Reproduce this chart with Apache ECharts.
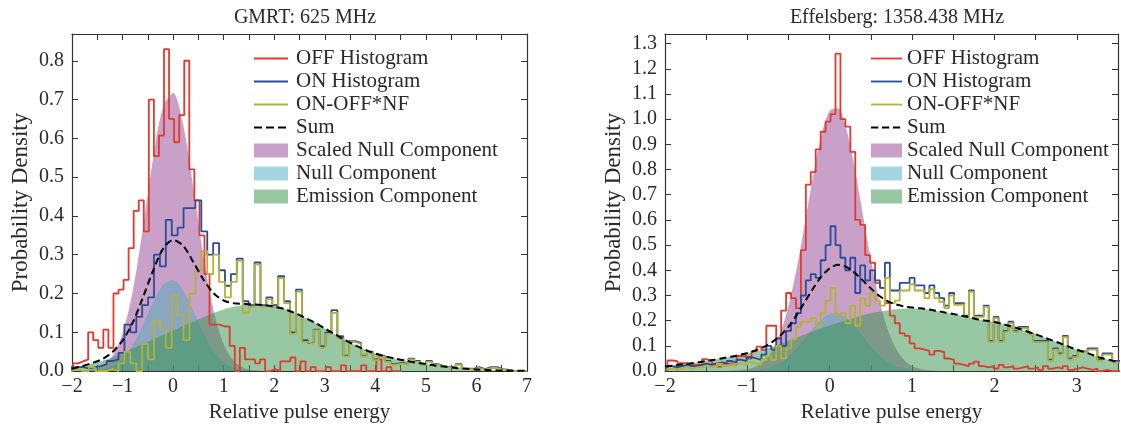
<!DOCTYPE html>
<html>
<head>
<meta charset="utf-8">
<script src="https://cdn.jsdelivr.net/npm/echarts@6/dist/echarts.min.js"></script>
<style>
  html, body { margin: 0; background: #fff; }
  #main { width: 1121px; height: 428px; }
</style>
</head>
<body>
<div id="main"></div>
<script>
// ---- GMRT 625 MHz (left panel) ----
const gmrtOffStart = -1.98, gmrtOffWidth = 0.1;
const gmrtOff = [0.02, 0.025, 0.03, 0.10, 0.08, 0.06, 0.107, 0.06, 0.20, 0.21,
  0.235, 0.317, 0.413, 0.44, 0.36, 0.70, 0.554, 0.607, 0.83, 0.65,
  0.59, 0.66, 0.80, 0.52, 0.44, 0.35, 0.25, 0.12, 0.12, 0.115,
  0.115, 0.065, 0.0, 0.06, 0.03, 0.03, 0.02, 0.03, 0.0, 0.005,
  0.0, 0.025, 0.025, 0.035, 0.0, 0.025, 0.0, 0.01, 0.0, 0.0,
  0.01, 0.0, 0.0, 0.015, 0.0, 0.0, 0.0, 0.015, 0.0, 0.0,
  0.03, 0.0, 0.01, 0.0, 0.0];

const gmrtOnStart = -2.016, gmrtOnWidth = 0.117;
const gmrtOn = [0.01, 0.01, 0.007, 0.01, 0.013, 0.018, 0.026, 0.03, 0.047, 0.12,
  0.10, 0.14, 0.17, 0.19, 0.30, 0.27, 0.39, 0.35, 0.37, 0.42,
  0.42, 0.44, 0.36, 0.30, 0.33, 0.26, 0.22, 0.25, 0.29, 0.18,
  0.17, 0.28, 0.17, 0.19, 0.17, 0.245, 0.18, 0.10, 0.21, 0.08,
  0.073, 0.107, 0.064, 0.10, 0.157, 0.09, 0.04, 0.077, 0.073, 0.04,
  0.05, 0.03, 0.04, 0.026, 0.018, 0.022, 0.018, 0.032, 0.026, 0.018,
  0.026, 0.018, 0.013, 0.01, 0.01, 0.018, 0.006, 0.006, 0.01, 0.005,
  0.01, 0.01, 0.005, 0.003, 0.0, 0.0, 0.0];
const gmrtDiff = [0.005, 0.0, 0.0, 0.01, 0.0, 0.0, 0.005, 0.0, 0.02, 0.05,
  0.02, 0.0, 0.07, 0.03, 0.13, 0.11, 0.06, 0.195, 0.145, 0.08,
  0.20, 0.26, 0.31, 0.25, 0.30, 0.23, 0.19, 0.23, 0.285, 0.15,
  0.165, 0.275, 0.165, 0.185, 0.165, 0.24, 0.175, 0.095, 0.205, 0.075,
  0.07, 0.105, 0.06, 0.095, 0.15, 0.085, 0.038, 0.075, 0.07, 0.038,
  0.048, 0.028, 0.038, 0.024, 0.016, 0.02, 0.016, 0.03, 0.024, 0.016,
  0.024, 0.016, 0.012, 0.009, 0.009, 0.016, 0.005, 0.005, 0.008, 0.004,
  0.008, 0.008, 0.004, 0.002, 0.0, 0.0, 0.0];

const gmrtCurveStart = -2.0, gmrtCurveStep = 0.2;
const gmrtScaledNull = [0, 0.001, 0.004, 0.013, 0.039, 0.097, 0.205, 0.365, 0.544, 0.681,
  0.717, 0.635, 0.473, 0.296, 0.156, 0.069, 0.026, 0.008, 0.002, 0.0005,
  0, 0, 0, 0, 0, 0, 0, 0, 0, 0, 0, 0, 0, 0, 0, 0, 0, 0, 0, 0, 0, 0, 0, 0, 0, 0];
const gmrtNull = [0, 0.0003, 0.0012, 0.0043, 0.0127, 0.032, 0.067, 0.119, 0.177, 0.222,
  0.234, 0.207, 0.154, 0.097, 0.051, 0.0225, 0.0085, 0.0026, 0.0007, 0.0002,
  0, 0, 0, 0, 0, 0, 0, 0, 0, 0, 0, 0, 0, 0, 0, 0, 0, 0, 0, 0, 0, 0, 0, 0, 0, 0];
const gmrtEmission = [0.006, 0.013, 0.02, 0.027, 0.036, 0.047, 0.058, 0.07, 0.081, 0.093,
  0.104, 0.116, 0.127, 0.139, 0.15, 0.159, 0.166, 0.17, 0.171, 0.17,
  0.166, 0.16, 0.15, 0.138, 0.125, 0.11, 0.095, 0.08, 0.067, 0.055,
  0.045, 0.038, 0.032, 0.027, 0.022, 0.018, 0.014, 0.011, 0.008, 0.006,
  0.004, 0.003, 0.002, 0.0015, 0.001, 0.001];
const gmrtSum = [0.006, 0.013, 0.021, 0.031, 0.049, 0.079, 0.125, 0.189, 0.258, 0.315,
  0.338, 0.323, 0.281, 0.236, 0.201, 0.182, 0.175, 0.173, 0.172, 0.17,
  0.166, 0.16, 0.15, 0.138, 0.125, 0.11, 0.095, 0.08, 0.067, 0.055,
  0.045, 0.038, 0.032, 0.027, 0.022, 0.018, 0.014, 0.011, 0.008, 0.006,
  0.004, 0.003, 0.002, 0.0015, 0.001, 0.001];

// ---- Effelsberg 1358.438 MHz (right panel) ----
const effStart = -1.97, effWidth = 0.06;
const effOff = [0.042, 0.040, 0.032, 0.032, 0.025, 0.025, 0.025, 0.047, 0.04, 0.03,
  0.018, 0.03, 0.03, 0.025, 0.06, 0.06, 0.05, 0.078, 0.097, 0.084,
  0.18, 0.18, 0.13, 0.24, 0.31, 0.29, 0.25, 0.48, 0.74, 0.79,
  0.88, 0.95, 0.99, 1.02, 1.26, 1.0, 0.97, 0.87, 0.60, 0.58,
  0.46, 0.43, 0.35, 0.33, 0.27, 0.22, 0.19, 0.15, 0.14, 0.11,
  0.09, 0.085, 0.08, 0.065, 0.08, 0.075, 0.05, 0.045, 0.03, 0.025,
  0.02, 0.03, 0.038, 0.02, 0.015, 0.02, 0.01, 0.025, 0.015, 0.02,
  0.01, 0.015, 0.02, 0.01, 0.015, 0.005, 0.02, 0.01, 0.015, 0.01,
  0.02, 0.005, 0.01, 0.015, 0.01, 0.005, 0.01, 0.0, 0.005, 0.0,
  0.0, 0.0];
const effOn = [0.02, 0.015, 0.02, 0.025, 0.02, 0.02, 0.025, 0.03, 0.025, 0.03,
  0.035, 0.03, 0.04, 0.035, 0.045, 0.04, 0.055, 0.05, 0.045, 0.065,
  0.10, 0.085, 0.13, 0.10, 0.16, 0.19, 0.23, 0.30, 0.36, 0.385,
  0.37, 0.44, 0.50, 0.575, 0.50, 0.45, 0.40, 0.45, 0.31, 0.42,
  0.36, 0.40, 0.36, 0.33, 0.43, 0.32, 0.32, 0.35, 0.35, 0.37,
  0.34, 0.34, 0.31, 0.34, 0.31, 0.29, 0.26, 0.31, 0.27, 0.27,
  0.22, 0.32, 0.22, 0.22, 0.26, 0.12, 0.215, 0.12, 0.16, 0.196,
  0.16, 0.175, 0.175, 0.15, 0.12, 0.12, 0.12, 0.045, 0.09, 0.07,
  0.14, 0.05, 0.06, 0.078, 0.078, 0.09, 0.09, 0.045, 0.07, 0.07,
  0.04, 0.04];
const effDiff = [0.01, 0.005, 0.01, 0.015, 0.01, 0.015, 0.015, 0.02, 0.015, 0.02,
  0.03, 0.02, 0.025, 0.03, 0.03, 0.025, 0.035, 0.03, 0.025, 0.045,
  0.06, 0.045, 0.10, 0.05, 0.09, 0.126, 0.175, 0.195, 0.197, 0.21,
  0.176, 0.23, 0.28, 0.33, 0.22, 0.23, 0.19, 0.26, 0.18, 0.29,
  0.26, 0.31, 0.28, 0.26, 0.37, 0.27, 0.28, 0.32, 0.32, 0.345,
  0.32, 0.32, 0.29, 0.325, 0.29, 0.275, 0.25, 0.30, 0.263, 0.265,
  0.215, 0.315, 0.215, 0.215, 0.255, 0.115, 0.21, 0.115, 0.155, 0.19,
  0.155, 0.17, 0.17, 0.145, 0.115, 0.115, 0.115, 0.04, 0.085, 0.065,
  0.135, 0.045, 0.055, 0.075, 0.075, 0.085, 0.085, 0.04, 0.065, 0.065,
  0.035, 0.035];

const effCurveStart = -2.0, effCurveStep = 0.1;
const effScaledNull = [0, 0, 0, 0, 0, 0, 0, 0,
  0.001, 0.003, 0.007, 0.017, 0.039, 0.080, 0.151, 0.260, 0.409, 0.589, 0.777, 0.937,
  1.033, 1.043, 0.962, 0.812, 0.627, 0.443, 0.286, 0.169, 0.092, 0.045,
  0.020, 0.0085, 0.003, 0.001,
  0, 0, 0, 0, 0, 0, 0, 0, 0, 0, 0, 0, 0, 0, 0, 0, 0, 0, 0, 0, 0, 0];
const effNull = [0, 0, 0, 0, 0, 0, 0, 0,
  0.0002, 0.0006, 0.0015, 0.0037, 0.0086, 0.0176, 0.0332, 0.0572, 0.090, 0.1296, 0.171, 0.206,
  0.227, 0.2295, 0.2116, 0.1786, 0.138, 0.0975, 0.063, 0.0372, 0.0202, 0.0099,
  0.0044, 0.0019, 0.0007, 0.0002,
  0, 0, 0, 0, 0, 0, 0, 0, 0, 0, 0, 0, 0, 0, 0, 0, 0, 0, 0, 0, 0, 0];
const effEmission = [0.018, 0.022, 0.026, 0.030, 0.035, 0.040, 0.045, 0.051, 0.057, 0.063,
  0.070, 0.078, 0.087, 0.097, 0.108, 0.12, 0.133, 0.146, 0.158, 0.17,
  0.181, 0.192, 0.202, 0.212, 0.222, 0.23, 0.236, 0.241, 0.245, 0.247,
  0.248, 0.247, 0.244, 0.239, 0.233, 0.227, 0.22, 0.213, 0.205, 0.2,
  0.195, 0.187, 0.178, 0.168, 0.157, 0.146, 0.134, 0.122, 0.110, 0.097,
  0.085, 0.075, 0.063, 0.052, 0.044, 0.036];
const effSum = [0.018, 0.022, 0.026, 0.030, 0.035, 0.040, 0.045, 0.051, 0.057, 0.064,
  0.072, 0.082, 0.096, 0.115, 0.141, 0.177, 0.223, 0.276, 0.329, 0.376,
  0.408, 0.422, 0.414, 0.391, 0.36, 0.328, 0.299, 0.278, 0.265, 0.257,
  0.252, 0.249, 0.245, 0.239, 0.233, 0.227, 0.22, 0.213, 0.205, 0.2,
  0.195, 0.187, 0.178, 0.168, 0.157, 0.146, 0.134, 0.122, 0.110, 0.097,
  0.085, 0.075, 0.063, 0.052, 0.044, 0.036];

const panelTitles = ["GMRT: 625 MHz", "Effelsberg: 1358.438 MHz"];
const legendNames = ["OFF Histogram", "ON Histogram", "ON-OFF*NF", "Sum",
  "Scaled Null Component", "Null Component", "Emission Component"];

// ---- helpers ----
const serif = "Liberation Serif";
const ink = "#2a2a2a";

function histSteps(start, width, heights) {
  const pts = [[start, 0]];
  heights.forEach((h, i) => pts.push([start + i * width, h]));
  const end = start + heights.length * width;
  pts.push([end, heights[heights.length - 1]]);
  pts.push([end, 0]);
  return pts;
}
function curvePts(start, step, ys) {
  return ys.map((y, i) => [start + i * step, y]);
}

const xLabel = (v) => {
  if (Math.abs(v - Math.round(v)) > 1e-6) return "";
  const r = Math.round(v);
  return r < 0 ? "\u2212" + Math.abs(r) : String(r);
};
const yLabel = (v) => (Math.abs(v * 10 - Math.round(v * 10)) > 1e-6 ? "" : v.toFixed(1));

const frameLine = { show: true, onZero: false, lineStyle: { color: "#333", width: 1.2 } };
const inTicks = { show: true, inside: true, length: 6, lineStyle: { color: "#333" } };

function xAxes(gi, max) {
  const base = {
    type: "value", gridIndex: gi, min: -2, max: max, interval: 0.5,
    axisLine: frameLine, axisTick: inTicks, splitLine: { show: false },
  };
  return [
    Object.assign({}, base, {
      position: "bottom",
      name: "Relative pulse energy", nameLocation: "middle", nameGap: 30,
      nameTextStyle: { fontFamily: serif, fontSize: 21, color: ink },
      axisLabel: { formatter: xLabel, fontFamily: serif, fontSize: 20, color: ink, margin: 6 },
    }),
    Object.assign({}, base, { position: "top", axisLabel: { show: false } }),
  ];
}
function yAxes(gi, max) {
  const base = {
    type: "value", gridIndex: gi, min: 0, max: max, interval: 0.1,
    axisLine: frameLine, axisTick: inTicks, splitLine: { show: false },
  };
  return [
    Object.assign({}, base, {
      position: "left",
      name: "Probability Density", nameLocation: "middle", nameGap: 40,
      nameTextStyle: { fontFamily: serif, fontSize: 23, color: ink },
      axisLabel: { formatter: yLabel, fontFamily: serif, fontSize: 20, color: ink, margin: 8 },
    }),
    Object.assign({}, base, { position: "right", axisLabel: { show: false } }),
  ];
}

function fill(name, color, data, ax) {
  return {
    name, type: "line", xAxisIndex: ax, yAxisIndex: ax, data,
    smooth: 0.3, symbol: "none", silent: true, z: 1,
    itemStyle: { color }, lineStyle: { width: 0 },
    areaStyle: { color, opacity: 1 },
  };
}
function stepLine(name, color, data, ax) {
  return {
    name, type: "line", step: "end", xAxisIndex: ax, yAxisIndex: ax, data,
    symbol: "none", silent: true, z: 3,
    itemStyle: { color }, lineStyle: { color, width: 1.8 },
  };
}
function sumLine(data, ax) {
  return {
    name: "Sum", type: "line", xAxisIndex: ax, yAxisIndex: ax, data,
    smooth: 0.3, symbol: "none", silent: true, z: 4,
    itemStyle: { color: "#000" }, lineStyle: { color: "#000", width: 2, type: [7, 4] },
  };
}

const cOff = "#e23a2e", cOn = "#2b4b9b", cDiff = "#b3b236";
const cScaled = "rgba(147,65,145,0.5)", cNull = "rgba(75,171,189,0.5)", cEmis = "rgba(49,145,71,0.5)";

function panelSeries(ax, d) {
  return [
    fill("Scaled Null Component", cScaled, d.scaled, ax),
    fill("Null Component", cNull, d.nul, ax),
    fill("Emission Component", cEmis, d.emis, ax),
    stepLine("OFF Histogram", cOff, d.off, ax),
    stepLine("ON Histogram", cOn, d.on, ax),
    stepLine("ON-OFF*NF", cDiff, d.diff, ax),
    sumLine(d.sum, ax),
  ];
}

// legend glyphs: a thin bar for lines, dashes for Sum, rectangles for fills
const solidIcon = "path://M0,0H34V2H0Z";
const dashIcon = "path://M0,0H8V2H0Z M12,0H20V2H12Z M24,0H32V2H24Z M34,0H34V2H34Z";
const legendIcons = [solidIcon, solidIcon, solidIcon, dashIcon, "rect", "rect", "rect"];
const legendColors = [cOff, cOn, cDiff, "#000", cScaled, cNull, cEmis];

function legendAt(left, iconW, textPad) {
  return {
    orient: "vertical", left: left, top: 43, padding: 5,
    itemWidth: iconW, itemHeight: 14, itemGap: 2, selectedMode: false,
    textStyle: { fontFamily: serif, fontSize: 21, color: ink, padding: [0, 0, 0, textPad] },
    data: legendNames.map((n, i) => ({
      name: n, icon: legendIcons[i], itemStyle: { color: legendColors[i] },
    })),
  };
}

const chart = echarts.init(document.getElementById("main"), null, { renderer: "canvas" });

const gmrt = {
  off: histSteps(gmrtOffStart, gmrtOffWidth, gmrtOff),
  on: histSteps(gmrtOnStart, gmrtOnWidth, gmrtOn),
  diff: histSteps(gmrtOnStart, gmrtOnWidth, gmrtDiff),
  scaled: curvePts(gmrtCurveStart, gmrtCurveStep, gmrtScaledNull),
  nul: curvePts(gmrtCurveStart, gmrtCurveStep, gmrtNull),
  emis: curvePts(gmrtCurveStart, gmrtCurveStep, gmrtEmission),
  sum: curvePts(gmrtCurveStart, gmrtCurveStep, gmrtSum),
};
const eff = {
  off: histSteps(effStart, effWidth, effOff),
  on: histSteps(effStart, effWidth, effOn),
  diff: histSteps(effStart, effWidth, effDiff),
  scaled: curvePts(effCurveStart, effCurveStep, effScaledNull),
  nul: curvePts(effCurveStart, effCurveStep, effNull),
  emis: curvePts(effCurveStart, effCurveStep, effEmission),
  sum: curvePts(effCurveStart, effCurveStep, effSum),
};

chart.setOption({
  animation: false,
  backgroundColor: "#fff",
  title: [
    { text: panelTitles[0], left: 300, top: 3, textAlign: "center",
      textStyle: { fontFamily: serif, fontSize: 20, fontWeight: "normal", color: ink } },
    { text: panelTitles[1], left: 892, top: 3, textAlign: "center",
      textStyle: { fontFamily: serif, fontSize: 20, fontWeight: "normal", color: ink } },
  ],
  legend: [legendAt(249, 34, 3), legendAt(866, 31, 0)],
  grid: [
    { left: 72, top: 34, width: 455, height: 341 },
    { left: 665, top: 34, width: 453, height: 341 },
  ],
  xAxis: [...xAxes(0, 7), ...xAxes(1, 3.5)],
  yAxis: [...yAxes(0, 0.869), ...yAxes(1, 1.338)],
  series: [...panelSeries(0, gmrt), ...panelSeries(2, eff)],
});
</script>
</body>
</html>
